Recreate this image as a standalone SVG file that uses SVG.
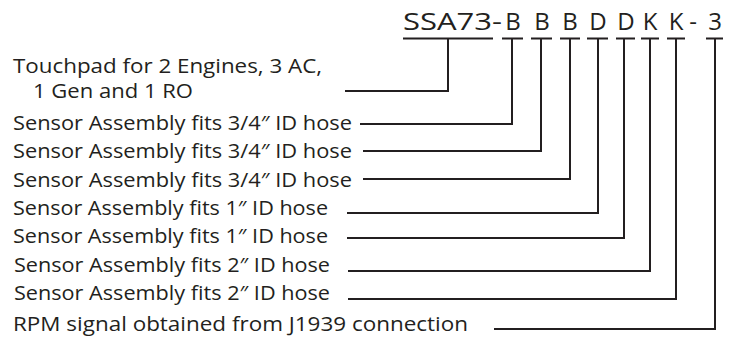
<svg xmlns="http://www.w3.org/2000/svg" width="737" height="337" viewBox="0 0 737 337">
<style>
.t{font-family:"Open Sans","Noto Sans",sans-serif;font-size:20px;fill:#231f20}
.h{font-family:"Open Sans","Noto Sans",sans-serif;font-size:24px;fill:#231f20;text-anchor:middle}
.c{fill:none;stroke:#231f20;stroke-width:2}
</style>
<rect width="737" height="337" fill="#fff"/>
<g id="code">
<text class="h" x="403" y="30" style="text-anchor:start" textLength="99" lengthAdjust="spacingAndGlyphs">SSA73-</text>
<text class="h" x="513" y="30">B</text>
<text class="h" x="542" y="30">B</text>
<text class="h" x="570" y="30">B</text>
<text class="h" x="598" y="30">D</text>
<text class="h" x="626" y="30">D</text>
<text class="h" x="650" y="30">K</text>
<text class="h" x="676" y="30">K</text>
<text class="h" x="693" y="30">-</text>
<text class="h" x="715" y="30">3</text>
</g>
<g id="n-touchpad"><text class="t" x="13" y="73" textLength="309" lengthAdjust="spacingAndGlyphs">Touchpad for 2 Engines, 3 AC,</text><text class="t" x="33" y="98" textLength="160" lengthAdjust="spacingAndGlyphs">1 Gen and 1 RO</text></g>
<g id="n-b1"><text class="t" x="13" y="130" textLength="339" lengthAdjust="spacingAndGlyphs">Sensor Assembly fits 3/4″ ID hose</text></g>
<g id="n-b2"><text class="t" x="13" y="158" textLength="339" lengthAdjust="spacingAndGlyphs">Sensor Assembly fits 3/4″ ID hose</text></g>
<g id="n-b3"><text class="t" x="13" y="187" textLength="339" lengthAdjust="spacingAndGlyphs">Sensor Assembly fits 3/4″ ID hose</text></g>
<g id="n-d1"><text class="t" x="13" y="215" textLength="315" lengthAdjust="spacingAndGlyphs">Sensor Assembly fits 1″ ID hose</text></g>
<g id="n-d2"><text class="t" x="13" y="243" textLength="315" lengthAdjust="spacingAndGlyphs">Sensor Assembly fits 1″ ID hose</text></g>
<g id="n-k1"><text class="t" x="14" y="272" textLength="316" lengthAdjust="spacingAndGlyphs">Sensor Assembly fits 2″ ID hose</text></g>
<g id="n-k2"><text class="t" x="14" y="300" textLength="316" lengthAdjust="spacingAndGlyphs">Sensor Assembly fits 2″ ID hose</text></g>
<g id="n-rpm"><text class="t" x="13" y="331" textLength="455" lengthAdjust="spacingAndGlyphs">RPM signal obtained from J1939 connection</text></g>
<g id="connectors" class="c">
<path d="M403,38.5H493M448,38.5V91H345"/>
<path d="M502,38.5H523M512,38.5V124H360"/>
<path d="M531,38.5H552M541,38.5V151H363"/>
<path d="M560,38.5H580M570,38.5V179H363"/>
<path d="M587,38.5H608M598,38.5V213H347"/>
<path d="M616,38.5H635M624,38.5V238H347"/>
<path d="M641,38.5H659M650,38.5V271H348"/>
<path d="M667,38.5H685M676,38.5V299H348"/>
<path d="M706,38.5H723M715,38.5V329H494"/>
</g>
</svg>
